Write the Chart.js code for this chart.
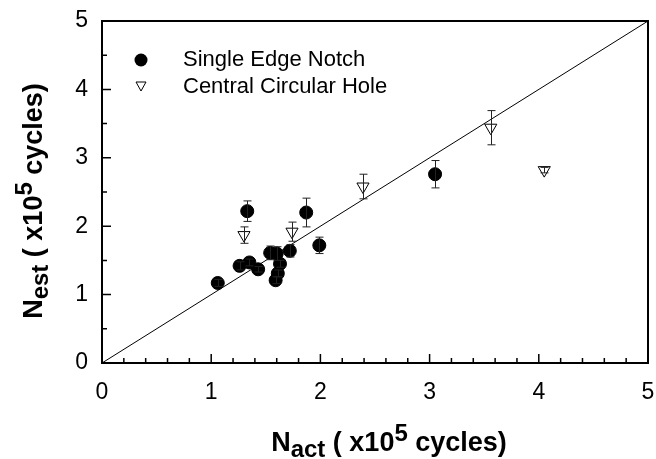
<!DOCTYPE html>
<html>
<head>
<meta charset="utf-8">
<script src="https://cdn.jsdelivr.net/npm/chart.js@4.4.1/dist/chart.umd.min.js"></script>
<style>
  html, body { margin: 0; padding: 0; background: #fff; }
  #wrap { width: 656px; height: 459px; }
</style>
</head>
<body>
<div id="wrap"><canvas id="chart" width="656" height="459"></canvas></div>
<script>
// Single edge notch specimens (filled circles)
const edgeX   = [1.06, 1.26, 1.35, 1.43, 1.33, 1.54, 1.60, 1.59, 1.61, 1.63, 1.72, 1.87, 1.99, 3.05];
const edgeY   = [1.17, 1.42, 1.47, 1.37, 2.22, 1.61, 1.60, 1.21, 1.31, 1.45, 1.64, 2.20, 1.72, 2.76];
const edgeErr = [0.05, 0.06, 0.05, 0.04, 0.15, 0.10, 0.10, 0.05, 0.05, 0.05, 0.09, 0.21, 0.12, 0.20];

// Central circular hole specimens (open down triangles)
const holeX   = [1.30, 1.74, 2.39, 3.56, 4.05];
const holeY   = [1.87, 1.92, 2.58, 3.44, 2.82];
const holeErr = [0.12, 0.14, 0.18, 0.25, 0.04];

// 1:1 reference line
const lineX = [0, 5];
const lineY = [0, 5];

const xTicks = [0, 1, 2, 3, 4, 5];
const yTicks = [0, 1, 2, 3, 4, 5];
const legendLabels = ['Single Edge Notch', 'Central Circular Hole'];

const FONT = 'Arial, "Liberation Sans", sans-serif';

function toPoints(xs, ys) {
  return xs.map((x, i) => ({ x: x, y: ys[i] }));
}

// draws text made of pieces with their own size and vertical shift
function richText(ctx, parts, x, y) {
  let total = 0;
  parts.forEach(p => {
    ctx.font = 'bold ' + p.size + 'px ' + FONT;
    p.w = ctx.measureText(p.t).width;
    total += p.w;
  });
  let cx = x - total / 2;
  ctx.textAlign = 'left';
  ctx.textBaseline = 'alphabetic';
  parts.forEach(p => {
    ctx.font = 'bold ' + p.size + 'px ' + FONT;
    ctx.fillText(p.t, cx, y + (p.dy || 0));
    cx += p.w;
  });
}

const errorBars = {
  id: 'errorBars',
  afterDatasetsDraw(chart) {
    const ctx = chart.ctx;
    const xs = chart.scales.x, ys = chart.scales.y;
    ctx.save();
    ctx.strokeStyle = '#222';
    ctx.lineWidth = 1;
    chart.data.datasets.forEach(ds => {
      if (!ds.err) return;
      ds.data.forEach((p, i) => {
        const px = Math.round(xs.getPixelForValue(p.x)) + 0.5;
        const top = ys.getPixelForValue(p.y + ds.err[i]);
        const bot = ys.getPixelForValue(p.y - ds.err[i]);
        ctx.beginPath();
        ctx.moveTo(px, top); ctx.lineTo(px, bot);
        ctx.moveTo(px - 4, top); ctx.lineTo(px + 4, top);
        ctx.moveTo(px - 4, bot); ctx.lineTo(px + 4, bot);
        ctx.stroke();
      });
    });
    ctx.restore();
  }
};

const frame = {
  id: 'frame',
  afterDraw(chart) {
    const ctx = chart.ctx;
    const a = chart.chartArea;
    const xs = chart.scales.x, ys = chart.scales.y;
    ctx.save();
    ctx.strokeStyle = '#000';
    ctx.lineWidth = 2;
    ctx.beginPath();
    ctx.moveTo(a.left, a.top); ctx.lineTo(a.right, a.top); ctx.lineTo(a.right, a.bottom);
    ctx.stroke();
    // inward ticks
    ctx.lineWidth = 1.5;
    ctx.beginPath();
    for (let k = 0; k <= 25; k++) {
      const v = k * 0.2;
      const len = (k % 5 === 0) ? 9 : 5;
      const px = xs.getPixelForValue(v);
      ctx.moveTo(px, a.bottom); ctx.lineTo(px, a.bottom - len);
    }
    for (let k = 0; k <= 10; k++) {
      const v = k * 0.5;
      const len = (k % 2 === 0) ? 9 : 5;
      const py = ys.getPixelForValue(v);
      ctx.moveTo(a.left, py); ctx.lineTo(a.left + len, py);
    }
    ctx.stroke();

    // legend
    ctx.fillStyle = '#000';
    ctx.beginPath();
    ctx.arc(141, 60, 6.5, 0, Math.PI * 2);
    ctx.fill();
    ctx.lineWidth = 1;
    ctx.beginPath();
    ctx.moveTo(136, 82); ctx.lineTo(146, 82); ctx.lineTo(141, 91); ctx.closePath();
    ctx.stroke();
    ctx.font = '22px ' + FONT;
    ctx.textAlign = 'left';
    ctx.textBaseline = 'middle';
    ctx.fillText(legendLabels[0], 183, 60);
    ctx.fillText(legendLabels[1], 183, 87);

    // axis titles
    richText(ctx, [
      { t: 'N', size: 27 }, { t: 'act', size: 24, dy: 6 }, { t: ' ( x10', size: 27 },
      { t: '5', size: 24, dy: -10 }, { t: ' cycles)', size: 27 }
    ], 389, 451);
    ctx.save();
    ctx.translate(42, 201);
    ctx.rotate(-Math.PI / 2);
    richText(ctx, [
      { t: 'N', size: 27 }, { t: 'est', size: 24, dy: 6 }, { t: ' ( x10', size: 27 },
      { t: '5', size: 24, dy: -10 }, { t: ' cycles)', size: 27 }
    ], 0, 0);
    ctx.restore();
    ctx.restore();
  }
};

Chart.defaults.font.family = FONT;
Chart.defaults.color = '#000';

new Chart(document.getElementById('chart').getContext('2d'), {
  type: 'scatter',
  data: {
    datasets: [
      {
        label: legendLabels[0],
        data: toPoints(edgeX, edgeY),
        err: edgeErr,
        pointStyle: 'circle',
        pointRadius: 6.5,
        backgroundColor: '#000',
        borderColor: '#000',
        borderWidth: 1
      },
      {
        label: legendLabels[1],
        data: toPoints(holeX, holeY),
        err: holeErr,
        pointStyle: 'triangle',
        rotation: 180,
        pointRadius: 7,
        backgroundColor: '#fff',
        borderColor: '#000',
        borderWidth: 1
      },
      {
        type: 'line',
        label: 'fit',
        data: toPoints(lineX, lineY),
        borderColor: '#000',
        borderWidth: 1,
        pointRadius: 0,
        fill: false
      }
    ]
  },
  options: {
    responsive: false,
    animation: false,
    devicePixelRatio: 1,
    layout: { padding: { top: 21, right: 4, left: 0, bottom: 0 } },
    plugins: { legend: { display: false }, tooltip: { enabled: false } },
    scales: {
      x: {
        type: 'linear', min: 0, max: 5,
        afterBuildTicks: s => { s.ticks = xTicks.map(v => ({ value: v })); },
        ticks: { font: { size: 23 }, color: '#000', padding: 16 },
        grid: { display: false, drawTicks: false },
        border: { display: true, color: '#000', width: 2 },
        afterFit: s => { s.height = 96; s.paddingLeft = 0; s.paddingRight = 0; }
      },
      y: {
        type: 'linear', min: 0, max: 5,
        afterBuildTicks: s => { s.ticks = yTicks.map(v => ({ value: v })); },
        ticks: { font: { size: 23 }, color: '#000', padding: 14 },
        grid: { display: false, drawTicks: false },
        border: { display: true, color: '#000', width: 2 },
        afterFit: s => { s.width = 102; s.paddingTop = 0; s.paddingBottom = 0; }
      }
    }
  },
  plugins: [errorBars, frame]
});
</script>
</body>
</html>
